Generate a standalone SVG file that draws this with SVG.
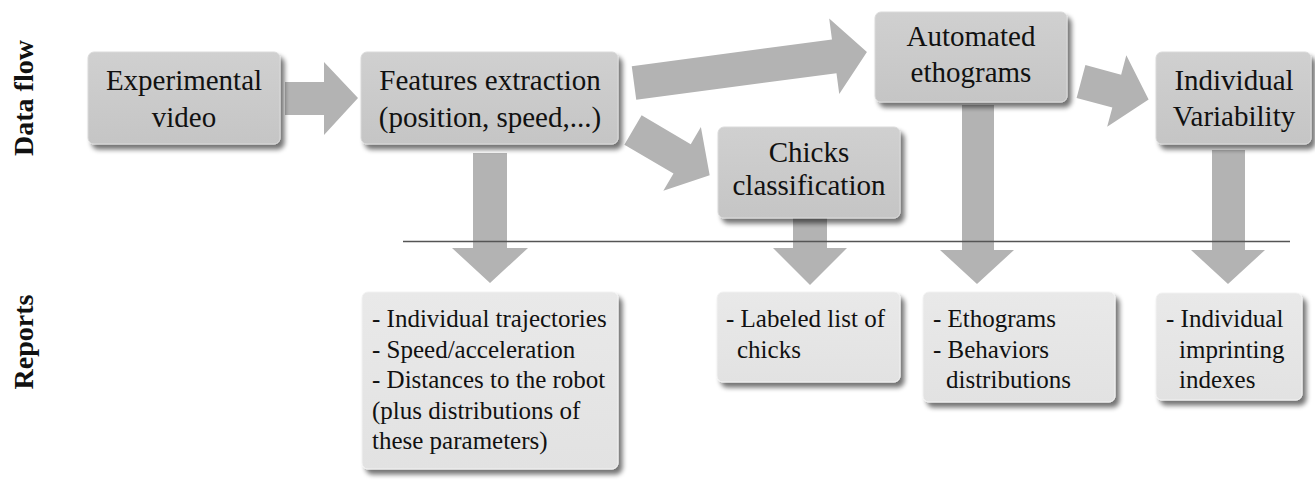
<svg xmlns="http://www.w3.org/2000/svg" width="1315" height="481" viewBox="0 0 1315 481">
<style>
.lbl{font-family:"Liberation Serif","Times New Roman",serif;font-size:29px;fill:#111;text-anchor:middle}
.rep{font-family:"Liberation Serif","Times New Roman",serif;font-size:25px;fill:#111}
.side{font-family:"Liberation Serif","Times New Roman",serif;font-size:28px;font-weight:bold;fill:#111;text-anchor:middle}
.box{fill:url(#gTop);stroke:#dadada;stroke-width:1;filter:url(#sh)}
.rbox{fill:url(#gRep);stroke:#f2f2f2;stroke-width:1;filter:url(#sh)}
.arr{fill:#b3b3b3}
</style>
<defs>
<linearGradient id="gTop" x1="0" y1="0" x2="0" y2="1">
<stop offset="0" stop-color="#d0d0d0"/><stop offset="1" stop-color="#c5c5c5"/>
</linearGradient>
<linearGradient id="gRep" x1="0" y1="0" x2="0" y2="1">
<stop offset="0" stop-color="#e9e9e9"/><stop offset="1" stop-color="#e2e2e2"/>
</linearGradient>
<filter id="sh" x="-10%" y="-10%" width="125%" height="130%">
<feGaussianBlur in="SourceAlpha" stdDeviation="2.5"/>
<feOffset dx="4" dy="5" result="b"/>
<feComponentTransfer><feFuncA type="linear" slope="0.55"/></feComponentTransfer>
<feMerge><feMergeNode/><feMergeNode in="SourceGraphic"/></feMerge>
</filter>
</defs>
<rect width="1315" height="481" fill="#ffffff"/>

<text class="side" transform="translate(33,98) rotate(-90)">Data flow</text>
<text class="side" transform="translate(33,342) rotate(-90)">Reports</text>

<g id="connectors">
<polygon class="arr" points="285,82 324,82 324,62 358,98 324,135 324,115 285,115"/>
<polygon class="arr" transform="translate(634,83) rotate(-7.6)" points="0,-17 202,-17 202,-38 235,0 202,38 202,17 0,17"/>
<polygon class="arr" transform="translate(633,130) rotate(30.5)" points="0,-17 57,-17 57,-37 89,0 57,37 57,17 0,17"/>
<polygon class="arr" transform="translate(1081,81.5) rotate(15)" points="0,-17 37,-17 37,-37 70,0 37,37 37,17 0,17"/>
<polygon class="arr" points="473,153 507,153 507,248 528,248 490,283 452,248 473,248"/>
<polygon class="arr" points="793,215 827,215 827,248 847,248 810,285 773,248 793,248"/>
<polygon class="arr" points="962,105 994,105 994,250 1014,250 977,284 940,250 962,250"/>
<polygon class="arr" points="1212,150 1245,150 1245,250 1265,250 1228,284 1191,250 1212,250"/>
<line x1="403" y1="241.5" x2="1290" y2="241.5" stroke="#555" stroke-width="1.5"/>
</g>

<g id="experimental-video">
<rect class="box" x="88" y="52" width="192" height="92" rx="6"/>
<text class="lbl" x="184" y="90">Experimental</text>
<text class="lbl" x="184" y="127">video</text>
</g>
<g id="features-extraction">
<rect class="box" x="361" y="52" width="257" height="92" rx="6"/>
<text class="lbl" x="490" y="90">Features extraction</text>
<text class="lbl" x="490" y="127">(position, speed,...)</text>
</g>
<g id="chicks-classification">
<rect class="box" x="718" y="127" width="182" height="91" rx="6"/>
<text class="lbl" x="809" y="162">Chicks</text>
<text class="lbl" x="809" y="195">classification</text>
</g>
<g id="automated-ethograms">
<rect class="box" x="875" y="12" width="192" height="90" rx="6"/>
<text class="lbl" x="971" y="46">Automated</text>
<text class="lbl" x="971" y="82">ethograms</text>
</g>
<g id="individual-variability">
<rect class="box" x="1156" y="52" width="155" height="92" rx="6"/>
<text class="lbl" x="1234" y="90">Individual</text>
<text class="lbl" x="1234" y="126">Variability</text>
</g>

<g id="report-features">
<rect class="rbox" x="362" y="292" width="256" height="177" rx="6"/>
<text class="rep" x="372" y="327">- Individual trajectories</text>
<text class="rep" x="372" y="357.5">- Speed/acceleration</text>
<text class="rep" x="372" y="388">- Distances to the robot</text>
<text class="rep" x="372" y="418.5">(plus distributions of</text>
<text class="rep" x="372" y="449">these parameters)</text>
</g>
<g id="report-chicks">
<rect class="rbox" x="717" y="292" width="183" height="90" rx="6"/>
<text class="rep" x="726" y="327">- Labeled list of</text>
<text class="rep" x="737" y="357.5">chicks</text>
</g>
<g id="report-ethograms">
<rect class="rbox" x="923" y="292" width="192" height="110" rx="6"/>
<text class="rep" x="933" y="327">- Ethograms</text>
<text class="rep" x="933" y="357.5">- Behaviors</text>
<text class="rep" x="946" y="388">distributions</text>
</g>
<g id="report-individual">
<rect class="rbox" x="1156" y="293" width="146" height="107" rx="6"/>
<text class="rep" x="1166" y="327">- Individual</text>
<text class="rep" x="1179" y="357.5">imprinting</text>
<text class="rep" x="1179" y="388">indexes</text>
</g>
</svg>
